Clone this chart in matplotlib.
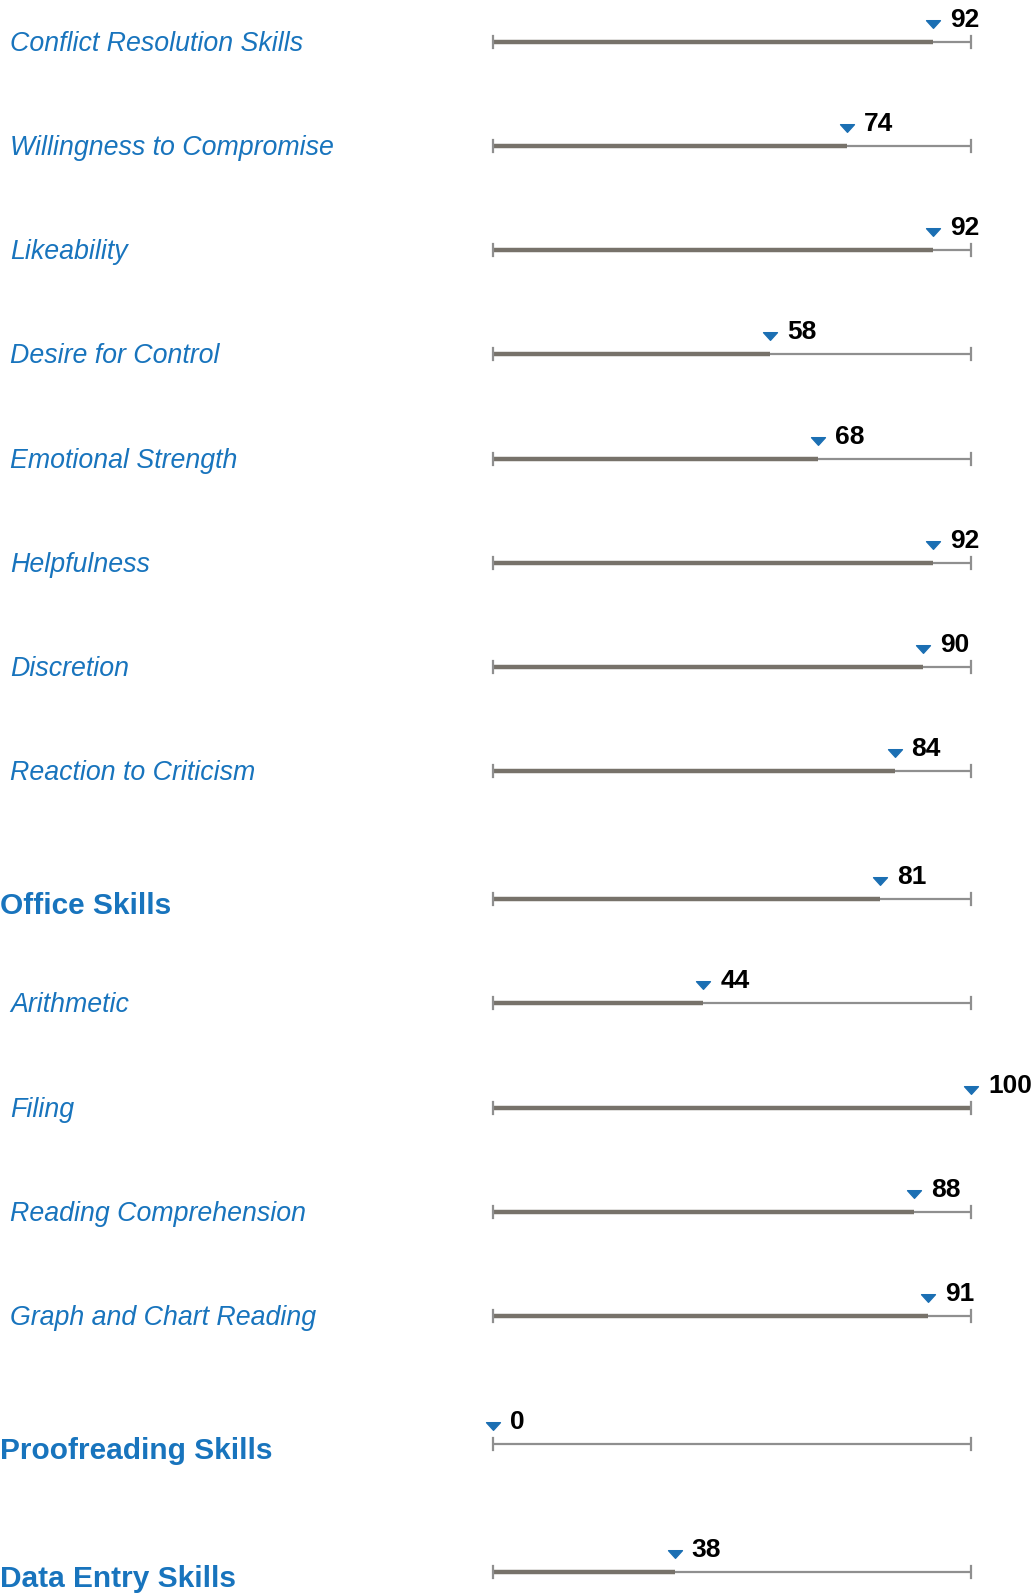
import numpy as np
import matplotlib.pyplot as plt
from matplotlib.path import Path
import matplotlib.transforms as mtransforms

plt.rcParams['font.family'] = ['Liberation Sans', 'DejaVu Sans']

labels = ["Conflict Resolution Skills", "Willingness to Compromise", "Likeability",
          "Desire for Control", "Emotional Strength", "Helpfulness", "Discretion",
          "Reaction to Criticism", "Office Skills", "Arithmetic", "Filing",
          "Reading Comprehension", "Graph and Chart Reading", "Proofreading Skills",
          "Data Entry Skills"]
values = [92, 74, 92, 58, 68, 92, 90, 84, 81, 44, 100, 88, 91, 0, 38]
is_heading = [False] * 8 + [True] + [False] * 4 + [True, True]

# layout in pixels
W, H = 1033, 1596
x0, px_per_unit = 493, 4.78
step, section_gap = 104.2, 128.0

ypos = []
y = 41.7
for i, h in enumerate(is_heading):
    if i > 0:
        y += section_gap if h else step
    ypos.append(y)

fig = plt.figure(figsize=(W / 100, H / 100), dpi=100)
ax = fig.add_axes([0, 0, 1, 1])
ax.set_xlim(-x0 / px_per_unit, (W - x0) / px_per_unit)
ax.set_ylim(H, 0)
ax.axis('off')

# pixel offset helper
def off(dx, dy):
    return mtransforms.offset_copy(ax.transData, fig=fig, x=dx, y=dy, units='dots')

tri = Path([(-1, 0.55), (1, 0.55), (0, -0.55), (-1, 0.55)],
           [Path.MOVETO, Path.LINETO, Path.LINETO, Path.CLOSEPOLY])

blue = '#1874bd'
trans = mtransforms.blended_transform_factory(fig.transFigure, ax.transData)
for lab, v, yy, h in zip(labels, values, ypos, is_heading):
    ax.plot([0, 100], [yy, yy], color='#8f8f8f', lw=1.6, solid_capstyle='butt', zorder=1)
    ax.plot([0, v], [yy, yy], color='#77726a', lw=3.2, solid_capstyle='butt', zorder=2)
    for xe in (0, 100):
        ax.plot([xe, xe], [yy - 6, yy + 6], color='#8f8f8f', lw=1.6, zorder=3)
    ax.plot([v], [yy], marker=tri, markersize=10, color='#1b6fb3', lw=0,
            transform=off(0, 18), zorder=4)
    ax.text(v, yy, str(v), fontsize=19, fontweight='bold', color='black',
            ha='left', va='baseline', transform=off(17, 15))
    if h:
        ax.text(0.0, yy + 15, lab, fontsize=21.5, fontweight='bold', color=blue,
                ha='left', va='baseline', transform=trans)
    else:
        ax.text(10 / W, yy + 9, lab, fontsize=19.3, fontstyle='italic', color=blue,
                ha='left', va='baseline', transform=trans)

fig.savefig('out.png', dpi=100)
